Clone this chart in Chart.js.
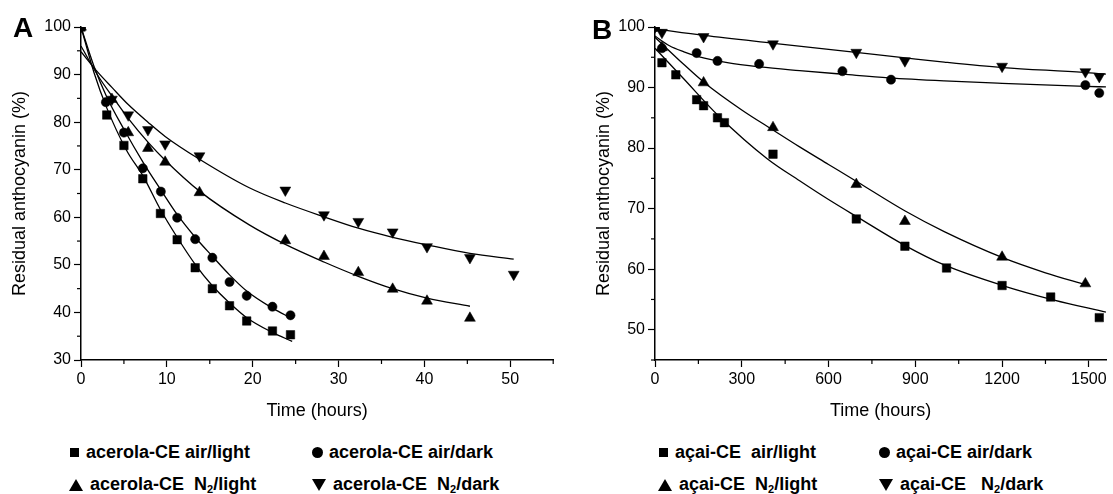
<!DOCTYPE html>
<html>
<head>
<meta charset="utf-8">
<script src="https://cdn.jsdelivr.net/npm/chart.js@4.4.1/dist/chart.umd.min.js"></script>
<style>
    body { margin: 0; width: 1113px; height: 494px; background: #fff; position: relative; overflow: hidden;
           font-family: "Liberation Sans", Arial, sans-serif; color: #000; }
    canvas { position: absolute; top: 0; }
    .letter { position: absolute; font-weight: bold; font-size: 28px; line-height: 28px; }
    .lg { position: absolute; font-weight: bold; font-size: 18px; line-height: 20px; white-space: pre; }
    .lg sub { font-size: 11px; vertical-align: -3px; line-height: 0; }
    .mk { position: absolute; background: #000; }
    .mk.circle { border-radius: 50%; }
    .mk.up, .mk.down { background: none; width: 0; height: 0; }
</style>
</head>
<body>
<canvas id="chartA" width="560" height="426" style="left:0"></canvas>
<canvas id="chartB" width="527" height="426" style="left:586px"></canvas>
<div class="letter" style="left:13px;top:14px">A</div>
<div class="letter" style="left:592px;top:16px">B</div>
<div id="legend"></div>

<script>
// ---- panel A: acerola-CE, time in hours ----
const aAirLightT = [0, 3.0, 5.0, 7.2, 9.25, 11.2, 13.3, 15.3, 17.3, 19.3, 22.3, 24.4];
const aAirLightY = [100, 81.5, 75.1, 68.1, 60.8, 55.3, 49.4, 45.0, 41.4, 38.2, 36.1, 35.3];
const aAirDarkT = [0, 2.9, 5.0, 7.2, 9.3, 11.2, 13.3, 15.3, 17.3, 19.3, 22.3, 24.4];
const aAirDarkY = [100, 84.2, 77.8, 70.3, 65.4, 59.9, 55.4, 51.5, 46.4, 43.5, 41.2, 39.4];
const aN2LightT = [0, 3.6, 5.5, 7.8, 9.8, 13.8, 23.8, 28.3, 32.3, 36.3, 40.3, 45.3];
const aN2LightY = [100, 84.8, 77.8, 74.5, 71.6, 65.2, 55.1, 51.8, 48.4, 44.9, 42.4, 38.8];
const aN2DarkT = [0, 3.6, 5.5, 7.8, 9.8, 13.8, 23.8, 28.3, 32.3, 36.3, 40.3, 45.3, 50.4];
const aN2DarkY = [100, 84.8, 81.5, 78.4, 75.4, 72.9, 65.7, 60.5, 59.1, 56.9, 53.8, 51.5, 48.0];

// fitted curves
const aAirLightFitT = [0, 1.5, 3, 5.3, 7.25, 9.2, 11.2, 13.3, 15.3, 17.3, 19.3, 22.3, 24.6];
const aAirLightFitY = [100, 90.5, 83, 74.1, 68.6, 61.8, 55.8, 50.1, 45.6, 42, 38.9, 35.8, 33.9];
const aAirDarkFitT = [0, 1.5, 3, 5, 7.25, 9.25, 11.2, 13.3, 15.3, 17.3, 19.3, 22.3, 24.6];
const aAirDarkFitY = [100, 91.8, 85.3, 78.5, 71.5, 65.9, 60.6, 55.8, 51.8, 47.9, 44.5, 40.9, 38.7];
const aN2LightFitT = [0, 2, 3.6, 5.5, 7.8, 9.8, 13.8, 19.6, 23.8, 28.3, 32.3, 36.3, 40.3, 45.3];
const aN2LightFitY = [96, 89.7, 85.5, 80.8, 75.8, 72.0, 65.5, 58.4, 54.3, 50.6, 47.6, 45.0, 43.0, 41.3];
const aN2DarkFitT = [0, 2, 3.6, 5.5, 7.8, 9.8, 13.8, 19.6, 23.8, 28.3, 32.3, 36.3, 40.3, 45.3, 50.4];
const aN2DarkFitY = [94.8, 90.4, 87.3, 83.7, 80.0, 77.0, 72.2, 66.2, 63.0, 60.1, 57.7, 55.8, 54.2, 52.4, 51.2];

// ---- panel B: açai-CE, time in hours ----
const bAirLightT = [0, 24, 72, 144, 168, 216, 240, 408, 696, 864, 1008, 1200, 1368, 1536];
const bAirLightY = [100, 94.1, 92.1, 88.0, 87.0, 85.0, 84.2, 79.0, 68.3, 63.8, 60.2, 57.3, 55.4, 52.0];
const bAirDarkT = [0, 24, 144, 216, 360, 648, 816, 1488, 1536];
const bAirDarkY = [100, 96.5, 95.7, 94.4, 93.9, 92.7, 91.3, 90.4, 89.1];
const bN2LightT = [0, 24, 168, 408, 696, 864, 1200, 1488];
const bN2LightY = [100, 96.6, 90.8, 83.4, 74.0, 67.9, 62.0, 57.6];
const bN2DarkT = [0, 24, 168, 408, 696, 864, 1200, 1488, 1536];
const bN2DarkY = [100, 99.1, 98.4, 97.2, 95.8, 94.4, 93.5, 92.6, 91.8];

const bAirLightFitT = [0, 100, 220, 389, 500, 600, 700, 865, 1000, 1202, 1380, 1559];
const bAirLightFitY = [96.5, 91.4, 85.3, 78.2, 74.6, 71.5, 68.6, 63.9, 60.7, 57.3, 54.9, 52.9];
const bAirDarkFitT = [0, 50, 100, 150, 250, 363, 500, 651, 808, 1000, 1200, 1488, 1559];
const bAirDarkFitY = [98.5, 96.9, 95.9, 95.1, 94.1, 93.4, 92.8, 92.2, 91.6, 91.1, 90.7, 90.2, 90.1];
const bN2LightFitT = [0, 100, 171, 300, 411, 500, 600, 700, 865, 1000, 1202, 1350, 1490];
const bN2LightFitY = [98.3, 93.8, 90.8, 86.3, 82.9, 80.2, 77.3, 74.4, 69.6, 66.2, 61.9, 59.4, 57.4];
const bN2DarkFitT = [0, 171, 411, 695, 865, 1000, 1202, 1482, 1559];
const bN2DarkFitY = [99.7, 98.6, 97.3, 95.8, 94.9, 94.2, 93.3, 92.5, 92.2];

const legendA = ['acerola-CE air/light', 'acerola-CE air/dark', 'acerola-CE  N<sub>2</sub>/light', 'acerola-CE  N<sub>2</sub>/dark'];
const legendB = ['açai-CE  air/light', 'açai-CE air/dark', 'açai-CE  N<sub>2</sub>/light', 'açai-CE   N<sub>2</sub>/dark'];

Chart.defaults.font.family = '"Liberation Sans", Arial, sans-serif';
Chart.defaults.color = '#000';

function pts(xs, ys) {
    return xs.map((x, i) => ({ x, y: ys[i] }));
}

function markers(xs, ys, style, radius, rotation = 0) {
    return {
        data: pts(xs, ys),
        pointStyle: style,
        pointRadius: radius,
        pointRotation: rotation,
        pointBackgroundColor: '#000',
        pointBorderColor: '#000',
        pointBorderWidth: 0.5,
        showLine: false,
    };
}

function fitLine(xs, ys) {
    return {
        data: pts(xs, ys),
        showLine: true,
        pointRadius: 0,
        borderColor: '#000',
        borderWidth: 1.3,
        cubicInterpolationMode: 'monotone',
    };
}

// short minor ticks between the labelled ones
const minorTicks = {
    id: 'minorTicks',
    afterDraw(chart, args, opts) {
        const ctx = chart.ctx;
        ctx.save();
        ctx.strokeStyle = '#000';
        ctx.lineWidth = 1.2;
        for (const scale of Object.values(chart.scales)) {
            const major = opts[scale.id];
            scale.ticks.forEach((t) => {
                if (t.value % major === 0) return;
                const p = scale.getPixelForValue(t.value);
                ctx.beginPath();
                if (scale.isHorizontal()) {
                    ctx.moveTo(p, scale.top);
                    ctx.lineTo(p, scale.top + 4);
                } else {
                    ctx.moveTo(scale.right, p);
                    ctx.lineTo(scale.right - 4, p);
                }
                ctx.stroke();
            });
        }
        ctx.restore();
    },
};

function axis(min, max, step, major, title, titlePad, fit) {
    return {
        type: 'linear',
        min,
        max,
        afterFit: fit,
        border: { color: '#000', width: 1.5 },
        grid: {
            drawOnChartArea: false,
            drawTicks: true,
            tickLength: 7,
            tickWidth: 1.2,
            tickColor: (c) => (c.tick && c.tick.value % major === 0 ? '#000' : 'rgba(0,0,0,0)'),
        },
        ticks: {
            stepSize: step,
            autoSkip: false,
            includeBounds: false,
            maxRotation: 0,
            padding: 3,
            font: { size: 16 },
            color: '#000',
            callback: (v) => (v % major === 0 ? v : ''),
        },
        title: { display: true, text: title, font: { size: 18 }, color: '#000', padding: titlePad },
    };
}

function makePanel(canvas, datasets, xAxis, yAxis, majors) {
    return new Chart(canvas, {
        type: 'scatter',
        data: { datasets },
        options: {
            responsive: false,
            animation: false,
            devicePixelRatio: 1,
            events: [],
            layout: { padding: { top: 27, right: 3, bottom: 0, left: 0 } },
            plugins: { legend: { display: false }, tooltip: { enabled: false }, minorTicks: majors },
            scales: { x: xAxis, y: yAxis },
        },
        plugins: [minorTicks],
    });
}

makePanel(document.getElementById('chartA'), [
    markers(aAirLightT, aAirLightY, 'rect', 6),
    markers(aAirDarkT, aAirDarkY, 'circle', 4.6),
    markers(aN2LightT, aN2LightY, 'triangle', 6.3),
    markers(aN2DarkT, aN2DarkY, 'triangle', 6.3, 180),
    fitLine(aAirLightFitT, aAirLightFitY),
    fitLine(aAirDarkFitT, aAirDarkFitY),
    fitLine(aN2LightFitT, aN2LightFitY),
    fitLine(aN2DarkFitT, aN2DarkFitY),
],
    axis(0, 55, 5, 10, 'Time (hours)', { top: 0, bottom: 4 }, (s) => { s.height = 66; }),
    axis(30, 100, 5, 10, 'Residual anthocyanin (%)', { top: 9, bottom: 0 }, (s) => { s.width = 81; }),
    { x: 10, y: 10 });

makePanel(document.getElementById('chartB'), [
    markers(bAirLightT, bAirLightY, 'rect', 6),
    markers(bAirDarkT, bAirDarkY, 'circle', 4.6),
    markers(bN2LightT, bN2LightY, 'triangle', 6.3),
    markers(bN2DarkT, bN2DarkY, 'triangle', 6.3, 180),
    fitLine(bAirLightFitT, bAirLightFitY),
    fitLine(bAirDarkFitT, bAirDarkFitY),
    fitLine(bN2LightFitT, bN2LightFitY),
    fitLine(bN2DarkFitT, bN2DarkFitY),
],
    axis(0, 1560, 150, 300, 'Time (hours)', { top: 0, bottom: 4 }, (s) => { s.height = 66; }),
    axis(45, 100, 5, 10, 'Residual anthocyanin (%)', { top: 7, bottom: 0 }, (s) => { s.width = 69; }),
    { x: 300, y: 10 });

// legends: two rows of two entries under each panel
function legend(labels, left, col2) {
    const box = document.getElementById('legend');
    const shapes = ['square', 'circle', 'up', 'down'];
    labels.forEach((text, i) => {
        const x = (i % 2 === 0 ? left : col2);
        const cy = i < 2 ? 453 : 485;
        const mk = document.createElement('div');
        mk.className = 'mk ' + shapes[i];
        if (shapes[i] === 'square') {
            Object.assign(mk.style, { left: (x + 1) + 'px', top: (cy - 5) + 'px', width: '9px', height: '9px' });
        } else if (shapes[i] === 'circle') {
            Object.assign(mk.style, { left: x + 'px', top: (cy - 6) + 'px', width: '11px', height: '11px' });
        } else if (shapes[i] === 'up') {
            Object.assign(mk.style, { left: x + 'px', top: (cy - 6) + 'px',
                borderLeft: '7px solid transparent', borderRight: '7px solid transparent', borderBottom: '12px solid #000' });
        } else {
            Object.assign(mk.style, { left: x + 'px', top: (cy - 6) + 'px',
                borderLeft: '7px solid transparent', borderRight: '7px solid transparent', borderTop: '12px solid #000' });
        }
        box.appendChild(mk);
        const t = document.createElement('div');
        t.className = 'lg';
        t.innerHTML = text;
        t.style.left = (x + (shapes[i] === 'square' || shapes[i] === 'circle' ? 17 : 21)) + 'px';
        t.style.top = (cy - 11) + 'px';
        box.appendChild(t);
    });
}

legend(legendA, 69, 312);
legend(legendB, 658, 879);
</script>
</body>
</html>
